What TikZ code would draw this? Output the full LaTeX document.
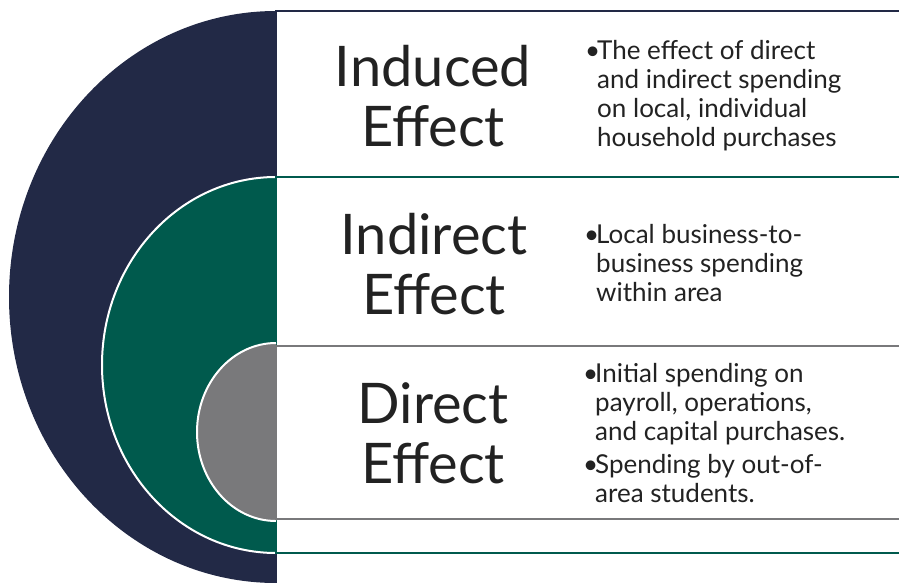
\documentclass[tikz,border=0pt]{standalone}
\usepackage{fontspec}
\setmainfont{Lato}
\definecolor{navy}{RGB}{34,41,70}
\definecolor{dgreen}{RGB}{0,90,77}
\definecolor{mgray}{RGB}{121,121,123}
\definecolor{txt}{RGB}{34,34,34}
\newcommand\mybul{\makebox[12pt][l]{•}}
\newcommand\myind{\hspace*{12pt}}
\begin{document}
\begin{tikzpicture}[x=1pt,y=1pt,
  panel/.style={fill=white,line width=2pt},
  rim/.style={draw=white,line width=2pt},
  title/.style={anchor=base,inner sep=0pt,text=txt,font=\fontsize{56}{60}\selectfont},
  bullets/.style={anchor=base west,inner sep=0pt,text=txt,font=\fontsize{26}{29}\selectfont}]
\useasboundingbox (0,0) rectangle (899,-583);
\clip (0,0) rectangle (899,-583);
% navy level
\fill[navy] (276,-11) arc[start angle=90,end angle=270,x radius=267,y radius=286] -- cycle;
\draw[panel,draw=navy] (276,-11) rectangle (920,-620);
% green level
\fill[dgreen] (276,-177) arc[start angle=90,end angle=270,x radius=174,y radius=188] -- cycle;
\draw[rim] (276,-177) arc[start angle=90,end angle=270,x radius=174,y radius=188];
\draw[panel,draw=dgreen] (276,-177) rectangle (920,-553);
% gray level
\fill[mgray] (276,-343) arc[start angle=90,end angle=270,x radius=79,y radius=89] -- cycle;
\draw[rim] (276,-343) arc[start angle=90,end angle=270,x radius=79,y radius=89];
\draw[panel,draw=mgray,line width=2.5pt] (276,-346) rectangle (920,-519);
% titles
\node[title] (t1) at (433,-87) {\begin{tabular}[t]{@{}c@{}}Induced\\Effect\end{tabular}};
\node[title] (t2) at (434,-254) {\begin{tabular}[t]{@{}c@{}}Indirect\\Effect\end{tabular}};
\node[title] (t3) at (433,-423) {\begin{tabular}[t]{@{}c@{}}Direct\\Effect\end{tabular}};
% bullets
\node[bullets] (b1) at (585,-60) {\begin{tabular}[t]{@{}l@{}}\mybul The effect of direct\\\myind and indirect spending\\\myind on local, individual\\\myind household purchases\end{tabular}};
\node[bullets] (b2) at (584,-243.5) {\begin{tabular}[t]{@{}l@{}}\mybul Local business-to-\\\myind business spending\\\myind within area\end{tabular}};
\node[bullets] (b3) at (583,-382) {\begin{tabular}[t]{@{}l@{}}\mybul Initial spending on\\\myind payroll, operations,\\\myind and capital purchases.\\[4pt]\mybul Spending by out-of-\\\myind area students.\end{tabular}};
\end{tikzpicture}
\end{document}
